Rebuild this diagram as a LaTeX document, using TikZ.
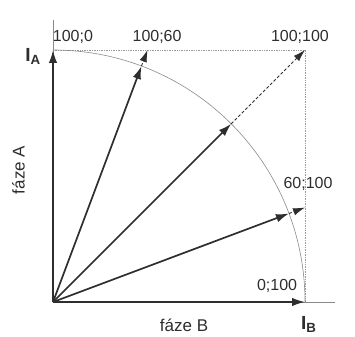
\documentclass[tikz,border=0pt]{standalone}
\usepackage{fontspec}
\setmainfont{Liberation Sans}
\usetikzlibrary{arrows.meta}
\definecolor{phline}{HTML}{2E2E2E}
\definecolor{phgray}{HTML}{8A8A8A}
\definecolor{phdot}{HTML}{9A9A9A}
\tikzset{
  vec/.style={-{Latex[length=13pt,width=8.5pt]}, line width=1.7pt, phline},
  ext/.style={-{Latex[length=12pt,width=7.5pt]}, dash pattern=on 3pt off 2pt,
    line width=0.9pt, phline},
  guide/.style={densely dotted, phdot, line width=0.7pt},
  axis/.style={phgray, line width=0.7pt},
  lbl/.style={font=\fontsize{16}{19}\selectfont, text=phline, inner sep=0pt},
  phlbl/.style={font=\fontsize{17}{20}\selectfont, text=phline, inner sep=0pt},
  ilbl/.style={font=\bfseries\fontsize{19}{22}\selectfont, text=phline, inner sep=0pt},
}

\begin{document}
\begin{tikzpicture}[x=252pt, y=252pt]
    \useasboundingbox (-0.2103,-0.1349) rectangle (1.1984,1.1984);
    \coordinate (O) at (0,0);
    \coordinate (A) at (0,1);
    \coordinate (B) at (1,0);
    \coordinate (AB) at (1,1);
    \coordinate (a60) at (0.375,1);
    \coordinate (b60) at (1,0.375);
    \coordinate (yend) at (0,1.119);
    \coordinate (xend) at (1.119,0);
    \coordinate (ma60) at (69.44:1);
    \coordinate (mAB) at (45:1);
    \coordinate (mb60) at (20.56:1);
    % axes, circle, square
    \draw[axis] (O) -- (yend);
    \draw[axis] (O) -- (xend);
    \draw[guide] (A) -- (AB) -- (B);
    \draw[phgray, line width=0.6pt] (A) arc[start angle=90, end angle=0, radius=252pt];
    % vectors
    \draw[vec] (O) -- (A);
    \draw[vec] (O) -- (B);
    \foreach \m/\p in {ma60/a60, mAB/AB, mb60/b60} {
      \draw[vec] (O) -- (\m);
      \draw[ext] (\m) -- (\p);
    }
    % labels
    \node[lbl] (lA) at (0.079,1.052) {100;0};
    \node[lbl] (la60) at (0.413,1.052) {100;60};
    \node[lbl] (lAB) at (0.98,1.052) {100;100};
    \node[lbl] (lb60) at (1.012,0.468) {60;100};
    \node[lbl] (lB) at (0.889,0.063) {0;100};
    \node[ilbl] (IA) at (-0.079,0.975) {I\textsubscript{A}};
    \node[ilbl] (IB) at (1.015,-0.090) {I\textsubscript{B}};
    \node[phlbl] (fB) at (0.52,-0.091) {fáze B};
    \node[phlbl, rotate=90] (fA) at (-0.137,0.524) {fáze A};
  \end{tikzpicture}
\end{document}
